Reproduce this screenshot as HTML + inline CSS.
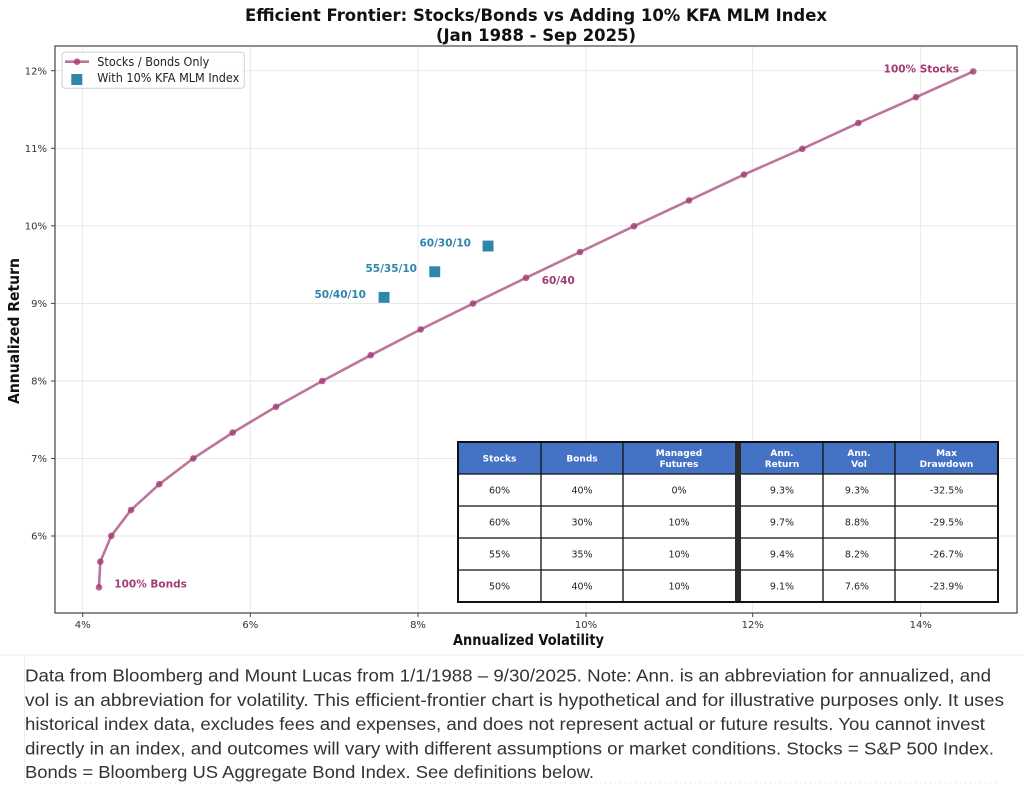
<!DOCTYPE html>
<html><head><meta charset="utf-8"><style>
html,body{margin:0;padding:0;background:#fff;}
svg{display:block;}
</style></head><body>
<svg width="1024" height="795" viewBox="0 0 1024 795" xmlns="http://www.w3.org/2000/svg">
<rect x="0" y="0" width="1024" height="795" fill="#fff"/>
<line x1="0" y1="655" x2="1024" y2="655" stroke="#eeeeee" stroke-width="1"/>
<g font-family="DejaVu Sans, Liberation Sans, sans-serif">
<!-- title -->
<text x="536" y="21" text-anchor="middle" font-weight="bold" font-size="17" fill="#111" textLength="582" lengthAdjust="spacingAndGlyphs">Efficient Frontier: Stocks/Bonds vs Adding 10% KFA MLM Index</text>
<text x="536" y="41" text-anchor="middle" font-weight="bold" font-size="17" fill="#111" textLength="200" lengthAdjust="spacingAndGlyphs">(Jan 1988 - Sep 2025)</text>

<!-- grid -->
<g stroke="#e6e6e6" stroke-width="0.9">
<line x1="82.7" y1="46" x2="82.7" y2="613"/>
<line x1="250.3" y1="46" x2="250.3" y2="613"/>
<line x1="418" y1="46" x2="418" y2="613"/>
<line x1="586" y1="46" x2="586" y2="613"/>
<line x1="752.7" y1="46" x2="752.7" y2="613"/>
<line x1="920.7" y1="46" x2="920.7" y2="613"/>
<line x1="55" y1="70.7" x2="1017" y2="70.7"/>
<line x1="55" y1="148.3" x2="1017" y2="148.3"/>
<line x1="55" y1="225.8" x2="1017" y2="225.8"/>
<line x1="55" y1="303.4" x2="1017" y2="303.4"/>
<line x1="55" y1="381" x2="1017" y2="381"/>
<line x1="55" y1="458.5" x2="1017" y2="458.5"/>
<line x1="55" y1="536" x2="1017" y2="536"/>
</g>

<!-- frame -->
<rect x="55" y="46" width="962" height="567" fill="none" stroke="#444" stroke-width="1.2"/>

<!-- ticks -->
<g stroke="#444" stroke-width="1">
<line x1="82.7" y1="613" x2="82.7" y2="617"/>
<line x1="250.3" y1="613" x2="250.3" y2="617"/>
<line x1="418" y1="613" x2="418" y2="617"/>
<line x1="586" y1="613" x2="586" y2="617"/>
<line x1="752.7" y1="613" x2="752.7" y2="617"/>
<line x1="920.7" y1="613" x2="920.7" y2="617"/>
<line x1="51" y1="70.7" x2="55" y2="70.7"/>
<line x1="51" y1="148.3" x2="55" y2="148.3"/>
<line x1="51" y1="225.8" x2="55" y2="225.8"/>
<line x1="51" y1="303.4" x2="55" y2="303.4"/>
<line x1="51" y1="381" x2="55" y2="381"/>
<line x1="51" y1="458.5" x2="55" y2="458.5"/>
<line x1="51" y1="536" x2="55" y2="536"/>
</g>
<g font-size="10" fill="#333" text-anchor="middle">
<text x="82.7" y="628">4%</text>
<text x="250.3" y="628">6%</text>
<text x="418" y="628">8%</text>
<text x="586" y="628">10%</text>
<text x="752.7" y="628">12%</text>
<text x="920.7" y="628">14%</text>
</g>
<g font-size="10" fill="#333" text-anchor="end">
<text x="47" y="74.4">12%</text>
<text x="47" y="152">11%</text>
<text x="47" y="229.5">10%</text>
<text x="47" y="307.1">9%</text>
<text x="47" y="384.7">8%</text>
<text x="47" y="462.2">7%</text>
<text x="47" y="539.7">6%</text>
</g>

<!-- axis labels -->
<text x="528.5" y="645" text-anchor="middle" font-weight="bold" font-size="15" fill="#111" textLength="151" lengthAdjust="spacingAndGlyphs">Annualized Volatility</text>
<text transform="translate(19,331) rotate(-90)" x="0" y="0" text-anchor="middle" font-weight="bold" font-size="15" fill="#111" textLength="146" lengthAdjust="spacingAndGlyphs">Annualized Return</text>

<!-- frontier line -->
<polyline fill="none" stroke="#a23b72" stroke-opacity="0.7" stroke-width="2.6" stroke-linejoin="round"
points="99,587.3 100.3,561.7 111.3,535.8 131,510 159.3,484.2 193.3,458.4 232.7,432.6 276,406.8 322.3,381 370.7,355.2 420.7,329.4 473,303.6 526,277.8 580,252 634,226.2 689,200.4 744,174.6 802.3,148.8 858.3,123 916,97.2 973.3,71.4"/>
<g fill="#a23b72" fill-opacity="0.8">
<circle cx="99" cy="587.3" r="3.3"/>
<circle cx="100.3" cy="561.7" r="3.3"/>
<circle cx="111.3" cy="535.8" r="3.3"/>
<circle cx="131" cy="510" r="3.3"/>
<circle cx="159.3" cy="484.2" r="3.3"/>
<circle cx="193.3" cy="458.4" r="3.3"/>
<circle cx="232.7" cy="432.6" r="3.3"/>
<circle cx="276" cy="406.8" r="3.3"/>
<circle cx="322.3" cy="381" r="3.3"/>
<circle cx="370.7" cy="355.2" r="3.3"/>
<circle cx="420.7" cy="329.4" r="3.3"/>
<circle cx="473" cy="303.6" r="3.3"/>
<circle cx="526" cy="277.8" r="3.3"/>
<circle cx="580" cy="252" r="3.3"/>
<circle cx="634" cy="226.2" r="3.3"/>
<circle cx="689" cy="200.4" r="3.3"/>
<circle cx="744" cy="174.6" r="3.3"/>
<circle cx="802.3" cy="148.8" r="3.3"/>
<circle cx="858.3" cy="123" r="3.3"/>
<circle cx="916" cy="97.2" r="3.3"/>
<circle cx="973.3" cy="71.4" r="3.3"/>
</g>

<!-- squares -->
<g fill="#2e86ab" stroke="#fff" stroke-width="0.6">
<rect x="482.3" y="240.3" width="11.5" height="11.5"/>
<rect x="429" y="266" width="11.5" height="11.5"/>
<rect x="378.3" y="291.6" width="11.5" height="11.5"/>
</g>

<!-- annotations -->
<g font-size="10.5" font-weight="bold">
<text x="471" y="246.5" text-anchor="end" fill="#2e86ab">60/30/10</text>
<text x="417" y="272" text-anchor="end" fill="#2e86ab">55/35/10</text>
<text x="366" y="298" text-anchor="end" fill="#2e86ab">50/40/10</text>
<text x="541.7" y="284" fill="#a23b72">60/40</text>
<text x="114.3" y="587.3" fill="#a23b72">100% Bonds</text>
<text x="959" y="72.3" text-anchor="end" fill="#a23b72">100% Stocks</text>
</g>

<!-- legend -->
<rect x="62" y="52.3" width="182.3" height="36" rx="3" fill="#fff" fill-opacity="0.85" stroke="#d0d0d0" stroke-width="1"/>
<line x1="65" y1="61.7" x2="89" y2="61.7" stroke="#a23b72" stroke-opacity="0.7" stroke-width="2.6"/>
<circle cx="77" cy="61.7" r="3.3" fill="#a23b72" fill-opacity="0.8"/>
<rect x="71.3" y="74" width="11" height="11" fill="#2e86ab"/>
<text x="97.3" y="66" font-size="12" fill="#222" textLength="112" lengthAdjust="spacingAndGlyphs">Stocks / Bonds Only</text>
<text x="97.3" y="82" font-size="12" fill="#222" textLength="142" lengthAdjust="spacingAndGlyphs">With 10% KFA MLM Index</text>

<!-- table -->
<rect x="458" y="442" width="540" height="160" fill="#fff"/>
<rect x="458" y="442" width="277" height="32" fill="#4472c4"/>
<rect x="741" y="442" width="257" height="32" fill="#4472c4"/>
<g stroke="#111" stroke-width="1.3" fill="none">
<line x1="458" y1="474" x2="998" y2="474"/>
<line x1="458" y1="506" x2="998" y2="506"/>
<line x1="458" y1="538" x2="998" y2="538"/>
<line x1="458" y1="570" x2="998" y2="570"/>
<line x1="541" y1="442" x2="541" y2="602"/>
<line x1="623" y1="442" x2="623" y2="602"/>
<line x1="823" y1="442" x2="823" y2="602"/>
<line x1="895" y1="442" x2="895" y2="602"/>
</g>
<rect x="735" y="442" width="6" height="160" fill="#2b2b2b"/>
<rect x="458" y="442" width="540" height="160" fill="none" stroke="#111" stroke-width="2"/>
<g font-size="9" font-weight="bold" fill="#fff" text-anchor="middle">
<text x="499.5" y="461.3">Stocks</text>
<text x="582" y="461.3">Bonds</text>
<text x="679" y="456">Managed</text>
<text x="679" y="467">Futures</text>
<text x="782" y="456">Ann.</text>
<text x="782" y="467">Return</text>
<text x="859" y="456">Ann.</text>
<text x="859" y="467">Vol</text>
<text x="946.5" y="456">Max</text>
<text x="946.5" y="467">Drawdown</text>
</g>
<g font-size="9.5" fill="#222" text-anchor="middle">
<text x="499.5" y="493.5">60%</text><text x="582" y="493.5">40%</text><text x="679" y="493.5">0%</text><text x="782" y="493.5">9.3%</text><text x="857" y="493.5">9.3%</text><text x="946.5" y="493.5">-32.5%</text>
<text x="499.5" y="525.5">60%</text><text x="582" y="525.5">30%</text><text x="679" y="525.5">10%</text><text x="782" y="525.5">9.7%</text><text x="857" y="525.5">8.8%</text><text x="946.5" y="525.5">-29.5%</text>
<text x="499.5" y="557.5">55%</text><text x="582" y="557.5">35%</text><text x="679" y="557.5">10%</text><text x="782" y="557.5">9.4%</text><text x="857" y="557.5">8.2%</text><text x="946.5" y="557.5">-26.7%</text>
<text x="499.5" y="589.5">50%</text><text x="582" y="589.5">40%</text><text x="679" y="589.5">10%</text><text x="782" y="589.5">9.1%</text><text x="857" y="589.5">7.6%</text><text x="946.5" y="589.5">-23.9%</text>
</g>
</g>

<!-- footnote -->
<line x1="24.5" y1="656" x2="24.5" y2="782" stroke="#eeeeee" stroke-width="1"/>
<g font-family="Liberation Sans, Arial, sans-serif" font-size="17.5" fill="#333">
<text x="25" y="681.7" textLength="966" lengthAdjust="spacingAndGlyphs">Data from Bloomberg and Mount Lucas from 1/1/1988 – 9/30/2025. Note: Ann. is an abbreviation for annualized, and</text>
<text x="25" y="706" textLength="979" lengthAdjust="spacingAndGlyphs">vol is an abbreviation for volatility. This efficient-frontier chart is hypothetical and for illustrative purposes only. It uses</text>
<text x="25" y="730.2" textLength="960" lengthAdjust="spacingAndGlyphs">historical index data, excludes fees and expenses, and does not represent actual or future results. You cannot invest</text>
<text x="25" y="754.3" textLength="969" lengthAdjust="spacingAndGlyphs">directly in an index, and outcomes will vary with different assumptions or market conditions. Stocks = S&amp;P 500 Index.</text>
<text x="25" y="778" textLength="569" lengthAdjust="spacingAndGlyphs">Bonds = Bloomberg US Aggregate Bond Index. See definitions below.</text>
</g>
<line x1="25" y1="783" x2="1000" y2="783" stroke="#d8d8d8" stroke-width="1" stroke-dasharray="1,4"/>
</svg>
</body></html>
